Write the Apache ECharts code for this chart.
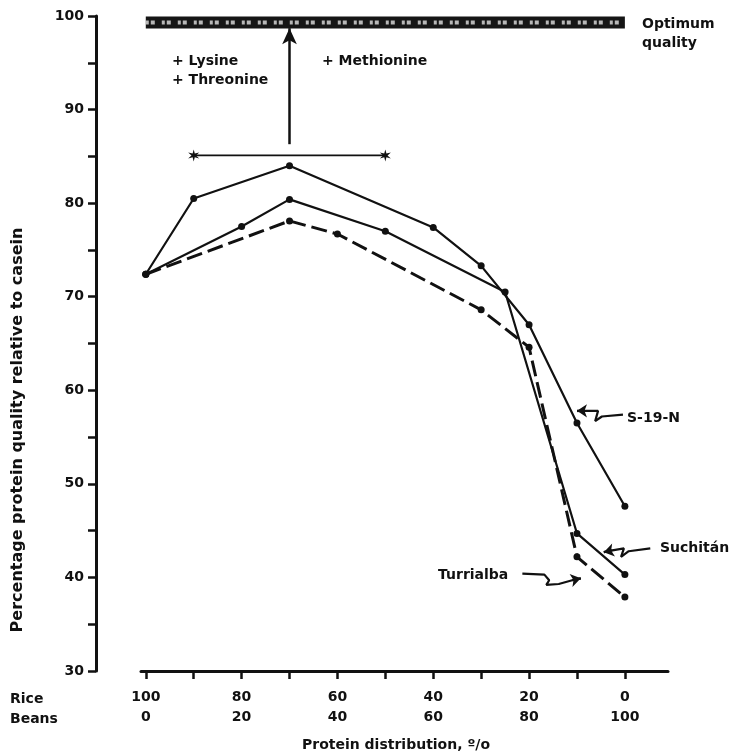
<!DOCTYPE html>
<html>
<head>
<meta charset="utf-8">
<script src="https://cdn.jsdelivr.net/npm/echarts@6/dist/echarts.min.js"></script>
<style>
  html, body { margin: 0; padding: 0; background: #fff; }
  #chart { width: 731px; height: 756px; }
</style>
</head>
<body>
<div id="chart"></div>
<script>
// beans share of protein (%), rice = 100 - beans
const s19nBeans = [0, 10, 30, 60, 70, 80, 90, 100];
const s19nQuality = [72.4, 80.5, 84.0, 77.4, 73.3, 67.0, 56.5, 47.6];

const suchitanBeans = [0, 20, 30, 50, 75, 90, 100];
const suchitanQuality = [72.4, 77.5, 80.4, 77.0, 70.5, 44.7, 40.3];

const turrialbaBeans = [0, 30, 40, 70, 80, 90, 100];
const turrialbaQuality = [72.4, 78.1, 76.7, 68.6, 64.6, 42.2, 37.9];

// x ticks / labels
const beansTicks = [0, 10, 20, 30, 40, 50, 60, 70, 80, 90, 100];
const beansLabels = [0, 20, 40, 60, 80, 100];

// annotations (data units)
const optimumBar = [[0, 99.3], [100, 99.3]];
const aminoBracket = [[10, 85.1], [50, 85.1]];
const aminoArrow = [[30, 86.3], [30, 98.7]];

// callout squiggles, from the label towards the curve (last point = arrow tip)
const s19nCallout = [[99.6, 57.4], [95.2, 57.2], [93.8, 56.7], [94.4, 57.8], [91.6, 57.8], [90.0, 57.8]];
const suchitanCallout = [[105.3, 43.1], [100.8, 42.8], [99.2, 42.2], [99.8, 43.1], [97.4, 42.9], [95.6, 42.7]];
const turrialbaCallout = [[78.6, 40.4], [83.2, 40.3], [84.2, 39.7], [83.6, 39.2], [86.2, 39.3], [89.0, 39.7], [90.8, 39.9]];

const pairs = (xs, ys) => xs.map((x, i) => [x, ys[i]]);

const ink = '#111';
const font = 'bold 14px "DejaVu Sans"';

const chart = echarts.init(document.getElementById('chart'), null, { renderer: 'canvas' });

// asterisk-like marker for the bracket ends
const starPath =
  'path://M5,0 L6,3.5 L10,2.5 L7,5 L10,7.5 L6,6.5 L5,10 L4,6.5 L0,7.5 L3,5 L0,2.5 L4,3.5 Z';

const curve = (name, xs, ys, dashed) => ({
  name: name,
  type: 'line',
  data: pairs(xs, ys),
  symbol: 'circle',
  symbolSize: 7,
  itemStyle: { color: ink },
  lineStyle: { color: ink, width: dashed ? 3 : 2.2, type: dashed ? [16, 6] : 'solid' },
  z: 5
});

// squiggle line + arrow head on its last segment
const callout = (coords) => ({
  type: 'line',
  data: coords,
  symbol: 'none',
  lineStyle: { color: ink, width: 2.2 },
  silent: true,
  markLine: {
    silent: true,
    symbol: ['none', 'arrow'],
    symbolSize: [10, 10],
    label: { show: false },
    lineStyle: { color: ink, width: 2.2, type: 'solid' },
    data: [[{ coord: coords[coords.length - 2] }, { coord: coords[coords.length - 1] }]]
  }
});

chart.setOption({
  animation: false,
  textStyle: { fontFamily: 'DejaVu Sans', fontWeight: 'bold', color: ink },
  grid: { left: 141, right: 63, top: 16, bottom: 85 },
  xAxis: {
    type: 'value',
    min: -1,
    max: 109,
    splitLine: { show: false },
    axisLine: { onZero: false, lineStyle: { color: ink, width: 3 } },
    axisTick: { customValues: beansTicks, length: 8, lineStyle: { color: ink, width: 2.5 } },
    axisLabel: {
      customValues: beansLabels,
      margin: 16,
      fontSize: 14,
      fontWeight: 'bold',
      color: ink,
      lineHeight: 20,
      formatter: (v) => (100 - v) + '\n' + v
    }
  },
  yAxis: {
    type: 'value',
    min: 30,
    max: 100,
    interval: 5,
    offset: 45,
    splitLine: { show: false },
    axisLine: { onZero: false, lineStyle: { color: ink, width: 3 } },
    axisTick: { length: 8, lineStyle: { color: ink, width: 2.5 } },
    axisLabel: {
      margin: 12,
      fontSize: 14,
      fontWeight: 'bold',
      color: ink,
      formatter: (v) => (v % 10 === 0 ? String(v) : '')
    }
  },
  series: [
    curve('S-19-N', s19nBeans, s19nQuality, false),
    curve('Suchitán', suchitanBeans, suchitanQuality, false),
    curve('Turrialba', turrialbaBeans, turrialbaQuality, true),
    {
      type: 'line',
      data: optimumBar,
      symbol: 'none',
      lineStyle: { color: '#151515', width: 12 },
      silent: true
    },
    {
      type: 'line',
      data: optimumBar,
      symbol: 'none',
      lineStyle: { color: '#e0e0e0', width: 4, type: [3, 2, 4, 7], opacity: 0.8 },
      silent: true,
      z: 3
    },
    {
      type: 'line',
      data: aminoBracket,
      symbol: starPath,
      symbolSize: [11, 12],
      itemStyle: { color: ink },
      lineStyle: { color: ink, width: 1.8 },
      silent: true,
      markLine: {
        silent: true,
        symbol: ['none', 'arrow'],
        symbolSize: [11, 16],
        label: { show: false },
        lineStyle: { color: ink, width: 2.5, type: 'solid' },
        data: [[{ coord: aminoArrow[0] }, { coord: aminoArrow[1] }]]
      }
    },
    callout(s19nCallout),
    callout(suchitanCallout),
    callout(turrialbaCallout)
  ],
  graphic: [
    { type: 'text', x: 172, y: 61, style: { text: '+ Lysine', font: font, fill: ink, textVerticalAlign: 'middle' } },
    { type: 'text', x: 172, y: 80, style: { text: '+ Threonine', font: font, fill: ink, textVerticalAlign: 'middle' } },
    { type: 'text', x: 322, y: 61, style: { text: '+ Methionine', font: font, fill: ink, textVerticalAlign: 'middle' } },
    { type: 'text', x: 642, y: 24, style: { text: 'Optimum', font: font, fill: ink, textVerticalAlign: 'middle' } },
    { type: 'text', x: 642, y: 43, style: { text: 'quality', font: font, fill: ink, textVerticalAlign: 'middle' } },
    { type: 'text', x: 627, y: 418, style: { text: 'S-19-N', font: font, fill: ink, textVerticalAlign: 'middle' } },
    { type: 'text', x: 660, y: 548, style: { text: 'Suchitán', font: font, fill: ink, textVerticalAlign: 'middle' } },
    { type: 'text', x: 438, y: 575, style: { text: 'Turrialba', font: font, fill: ink, textVerticalAlign: 'middle' } },
    { type: 'text', x: 10, y: 699, style: { text: 'Rice', font: font, fill: ink, textVerticalAlign: 'middle' } },
    { type: 'text', x: 10, y: 719, style: { text: 'Beans', font: font, fill: ink, textVerticalAlign: 'middle' } },
    { type: 'text', x: 396, y: 745, style: { text: 'Protein distribution, º/o', font: font, fill: ink, textAlign: 'center', textVerticalAlign: 'middle' } },
    {
      type: 'text', x: 18, y: 430, rotation: Math.PI / 2,
      style: { text: 'Percentage protein quality relative to casein', font: 'bold 16px "DejaVu Sans"', fill: ink, textAlign: 'center', textVerticalAlign: 'middle' }
    }
  ]
});

window.addEventListener('resize', () => chart.resize());
</script>
</body>
</html>
